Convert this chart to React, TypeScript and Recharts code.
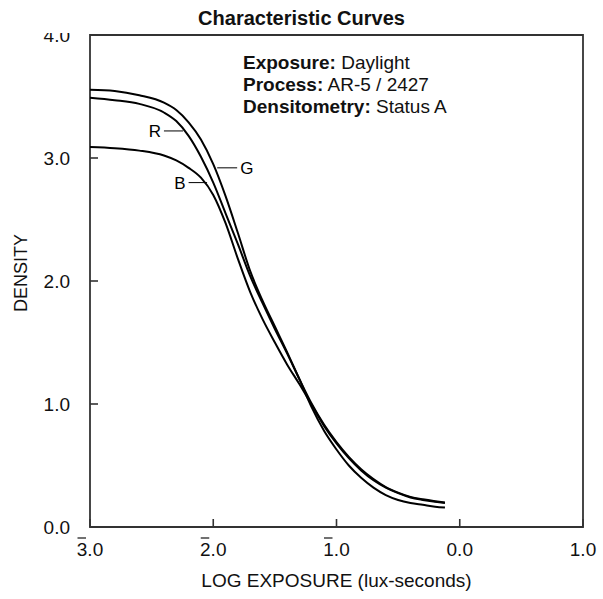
import { LineChart, Line, XAxis, YAxis, ReferenceArea, ReferenceLine } from 'recharts';

// Log exposure (x) sample points
const logE = [-3.0, -2.8, -2.6, -2.4, -2.3, -2.2, -2.1, -2.0, -1.9, -1.8, -1.7, -1.6, -1.5, -1.4, -1.3, -1.2, -1.1, -1.0, -0.9, -0.8, -0.7, -0.6, -0.5, -0.4, -0.3, -0.2, -0.12];

// Density per layer
const redD = [3.49, 3.47, 3.44, 3.37, 3.30, 3.18, 3.01, 2.80, 2.55, 2.30, 2.04, 1.82, 1.61, 1.41, 1.20, 1.00, 0.83, 0.69, 0.57, 0.47, 0.39, 0.325, 0.28, 0.245, 0.225, 0.21, 0.20];
const greenD = [3.555, 3.545, 3.51, 3.45, 3.39, 3.29, 3.15, 2.95, 2.69, 2.39, 2.08, 1.84, 1.63, 1.42, 1.20, 0.97, 0.78, 0.63, 0.50, 0.40, 0.32, 0.26, 0.22, 0.195, 0.18, 0.165, 0.158];
const blueD = [3.09, 3.08, 3.06, 3.02, 2.98, 2.92, 2.84, 2.70, 2.47, 2.18, 1.91, 1.69, 1.50, 1.32, 1.16, 0.99, 0.82, 0.68, 0.56, 0.46, 0.38, 0.32, 0.275, 0.24, 0.22, 0.205, 0.195];

const xTicks = [-3, -2, -1, 0, 1];
const xTickLabels = ['3.0', '2.0', '1.0', '0.0', '1.0'];
const xTickBars = [true, true, true, false, false];
const yTicks = [0, 1, 2, 3, 4];
const yTickLabels = ['0.0', '1.0', '2.0', '3.0', '4.0'];

const FONT = '"Liberation Sans", Arial, sans-serif';
const AXIS = '#333';
const TXT = 19;

const data = logE.map((x, i) => ({ x, r: redD[i], g: greenD[i], b: blueD[i] }));

const XTick = (props: any) => {
    const { x, y, payload } = props;
    const i = xTicks.indexOf(payload.value);
    return (
        <g>
            <line x1={x} x2={x} y1={y} y2={y - 8} stroke={AXIS} strokeWidth={1.6} />
            <text x={x} y={y + 29} textAnchor="middle" fontSize={TXT} fontFamily={FONT} fill="#111">
                {xTickLabels[i]}
            </text>
            {xTickBars[i] && (
                <line x1={x - 12.5} x2={x - 4} y1={y + 11} y2={y + 11} stroke="#111" strokeWidth={1.2} />
            )}
        </g>
    );
};

const YTick = (props: any) => {
    const { x, y, payload } = props;
    const i = yTicks.indexOf(payload.value);
    return (
        <g>
            <line x1={x} x2={x + 8} y1={y} y2={y} stroke={AXIS} strokeWidth={1.6} />
            <text x={x - 20} y={y + 7} textAnchor="end" fontSize={TXT} fontFamily={FONT} fill="#111">
                {yTickLabels[i]}
            </text>
        </g>
    );
};

const curveLabel = (value: string, position: 'left' | 'right') => ({
    value,
    position,
    offset: 3,
    fill: '#000',
    fontSize: 17,
    fontFamily: FONT,
});

export default function App() {
    return (
        <div style={{ position: 'absolute', left: 0, top: 0, width: 603, height: 599, background: '#fff' }}>
            <LineChart
                width={603}
                height={599}
                data={data}
                margin={{ top: 35, right: 20, bottom: 32, left: 30 }}
            >
                <XAxis
                    type="number"
                    dataKey="x"
                    domain={[-3, 1]}
                    ticks={xTicks}
                    allowDataOverflow
                    axisLine={false}
                    tickLine={false}
                    tickSize={0}
                    tickMargin={0}
                    height={40}
                    tick={<XTick />}
                    label={(props: any) => {
                        const vb = props.viewBox;
                        return (
                            <text x={vb.x + vb.width / 2} y={587} textAnchor="middle" fontSize={TXT} fontFamily={FONT} fill="#111">
                                LOG EXPOSURE (lux-seconds)
                            </text>
                        );
                    }}
                />
                <YAxis
                    type="number"
                    domain={[0, 4]}
                    ticks={yTicks}
                    allowDataOverflow
                    axisLine={false}
                    tickLine={false}
                    tickSize={0}
                    tickMargin={0}
                    width={60}
                    tick={<YTick />}
                    label={(props: any) => {
                        const vb = props.viewBox;
                        const cx = vb.x - 9;
                        const cy = vb.y + vb.height / 2 - 8;
                        return (
                            <text
                                x={cx}
                                y={cy}
                                transform={`rotate(-90 ${cx} ${cy})`}
                                textAnchor="middle"
                                dominantBaseline="central"
                                fontSize={18}
                                fontFamily={FONT}
                                fill="#111"
                            >
                                DENSITY
                            </text>
                        );
                    }}
                />
                <ReferenceArea x1={-3} x2={1} y1={0} y2={4} fill="none" stroke={AXIS} strokeWidth={1.8} />
                <Line type="monotone" dataKey="g" stroke="#000" strokeWidth={2} dot={false} isAnimationActive={false} />
                <Line type="monotone" dataKey="r" stroke="#000" strokeWidth={2} dot={false} isAnimationActive={false} />
                <Line type="monotone" dataKey="b" stroke="#000" strokeWidth={2} dot={false} isAnimationActive={false} />
                <ReferenceLine
                    segment={[{ x: -2.4, y: 3.22 }, { x: -2.245, y: 3.22 }]}
                    stroke="#000"
                    strokeWidth={1}
                    label={curveLabel('R', 'left')}
                />
                <ReferenceLine
                    segment={[{ x: -1.968, y: 2.92 }, { x: -1.806, y: 2.92 }]}
                    stroke="#000"
                    strokeWidth={1}
                    label={curveLabel('G', 'right')}
                />
                <ReferenceLine
                    segment={[{ x: -2.2, y: 2.8 }, { x: -2.05, y: 2.8 }]}
                    stroke="#000"
                    strokeWidth={1}
                    label={curveLabel('B', 'left')}
                />
            </LineChart>

            {/* title sits over the top of the plot and clips the 4.0 label */}
            <div
                style={{
                    position: 'absolute', left: 0, top: 0, width: 603, height: 33, overflow: 'hidden',
                    background: '#fff', textAlign: 'center', fontFamily: FONT,
                    fontWeight: 'bold', fontSize: 20, lineHeight: '36px', color: '#111',
                }}
            >
                Characteristic Curves
            </div>

            <div
                style={{
                    position: 'absolute', left: 243, top: 52, fontFamily: FONT,
                    fontSize: TXT, lineHeight: '22px', color: '#111',
                }}
            >
                <div><b>Exposure:</b> Daylight</div>
                <div><b>Process:</b> AR-5 / 2427</div>
                <div><b>Densitometry:</b> Status A</div>
            </div>
        </div>
    );
}
